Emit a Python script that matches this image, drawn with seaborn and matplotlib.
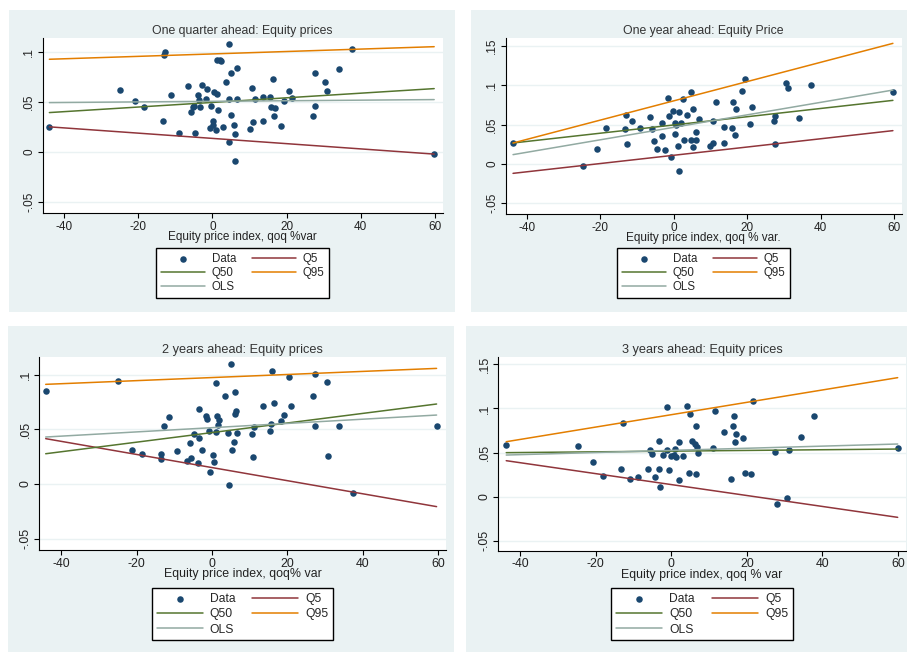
import matplotlib
matplotlib.use("Agg")
import matplotlib.pyplot as plt
import seaborn as sns
from matplotlib.patches import Rectangle
from matplotlib.ticker import FuncFormatter

# ---- data ----
titles = ["One quarter ahead: Equity prices", "One year ahead: Equity Price",
          "2 years ahead: Equity prices", "3 years ahead: Equity prices"]
xlabels = ["Equity price index, qoq %var", "Equity price index, qoq % var.",
           "Equity price index, qoq% var", "Equity price index, qoq % var"]
xticks = [-40, -20, 0, 20, 40, 60]
yticks_short = [-0.05, 0, 0.05, 0.1]
yticks_long = [-0.05, 0, 0.05, 0.1, 0.15]

# one quarter ahead
x1 = [-44.0, -24.9, -21.0, -18.5, -13.2, -12.8, -13.3, -11.3, -9.1, -6.5,
      -5.9, -4.6, -5.3, -4.9, -3.8, -2.7, -3.3, -3.6, -1.5, -1.7,
      -0.5, -0.8, 0.1, 0.2, 0.5, 1.1, 1.0, 1.4, 1.3, 1.9,
      2.4, 2.8, 3.6, 4.5, 5.0, 5.1, 4.5, 4.4, 5.9, 6.1,
      6.0, 6.5, 6.7, 10.0, 10.7, 11.0, 11.5, 13.6, 13.7, 15.5,
      16.3, 15.9, 16.9, 16.6, 18.6, 19.4, 20.7, 21.5, 27.1, 27.7,
      27.7, 30.4, 31.0, 34.2, 37.5, 59.8]
y1 = [0.025, 0.062, 0.051, 0.045, 0.097, 0.100, 0.031, 0.057, 0.019, 0.066,
      0.040, 0.019, 0.045, 0.046, 0.057, 0.067, 0.045, 0.052, 0.063, 0.053,
      0.046, 0.024, 0.031, 0.027, 0.060, 0.058, 0.022, 0.042, 0.092, 0.092,
      0.091, 0.025, 0.070, 0.108, 0.079, 0.037, 0.053, 0.010, 0.027, 0.018,
      -0.009, 0.084, 0.053, 0.023, 0.064, 0.030, 0.053, 0.031, 0.055, 0.055,
      0.073, 0.045, 0.044, 0.036, 0.026, 0.051, 0.061, 0.054, 0.036, 0.079,
      0.046, 0.070, 0.061, 0.083, 0.103, -0.002]
# fitted values at min / max x
q5_1 = [0.025, -0.0023]
q50_1 = [0.0393, 0.0633]
q95_1 = [0.0927, 0.1053]
ols_1 = [0.0493, 0.0523]

# one year ahead
x2 = [-43.8, -24.7, -20.9, -18.4, -13.0, -13.3, -12.7, -11.3, -9.1, -6.4,
      -5.9, -5.3, -4.5, -2.5, -3.2, -3.2, -1.6, -1.4, -0.8, -0.3,
      0.3, 0.4, 0.7, 1.2, 1.5, 1.9, 1.4, 2.5, 2.9, 3.6,
      4.6, 4.6, 5.1, 5.1, 6.1, 6.0, 6.8, 10.0, 10.8, 10.7,
      11.5, 13.6, 13.8, 15.9, 16.2, 16.6, 16.9, 18.6, 19.4, 20.7,
      21.4, 27.2, 27.7, 27.7, 30.5, 31.1, 34.1, 37.5, 59.7]
y2 = [0.0267, -0.0025, 0.0186, 0.0462, 0.0623, 0.0445, 0.025, 0.0547, 0.0453, 0.0602,
      0.0449, 0.0292, 0.0186, 0.0178, 0.0356, 0.0517, 0.0839, 0.061, 0.0093, 0.0669,
      0.0525, 0.0377, 0.049, 0.0225, 0.0657, 0.0525, -0.0089, 0.083, 0.0305, 0.0623,
      0.0915, 0.0305, 0.0703, 0.0212, 0.0305, 0.0411, 0.0576, 0.0233, 0.0267, 0.0547,
      0.0792, 0.047, 0.0267, 0.0453, 0.0792, 0.0364, 0.0699, 0.0928, 0.108, 0.0513,
      0.0729, 0.0547, 0.061, 0.025, 0.1025, 0.0962, 0.0585, 0.1, 0.0915]
q5_2 = [-0.0119, 0.0424]
q50_2 = [0.0267, 0.0809]
q95_2 = [0.0267, 0.1534]
ols_2 = [0.0119, 0.094]

# 2 years ahead
x3 = [-44.1, -25.0, -21.1, -18.6, -13.5, -13.5, -12.8, -11.3, -9.3, -6.5,
      -5.9, -5.6, -4.7, -3.8, -3.5, -3.4, -2.7, -1.6, -1.4, -0.9,
      -0.4, 0.2, 0.6, 1.1, 1.2, 1.3, 1.5, 2.0, 3.5, 4.3,
      4.4, 5.0, 5.2, 5.9, 6.0, 6.2, 6.5, 6.6, 10.6, 10.8,
      11.2, 13.5, 15.4, 15.6, 16.0, 16.5, 18.3, 19.0, 20.4, 21.1,
      26.7, 27.3, 27.4, 30.4, 30.9, 33.8, 37.3, 59.6]
y3 = [0.0854, 0.0945, 0.0314, 0.0274, 0.0271, 0.0226, 0.0534, 0.061, 0.0299, 0.021,
      0.0372, 0.0235, 0.046, 0.0189, 0.0686, 0.0424, 0.0311, 0.0622, 0.0595, 0.0485,
      0.0107, 0.0262, 0.0198, 0.0479, 0.0921, 0.0622, 0.054, 0.0582, 0.0802, 0.047,
      -0.0012, 0.1095, 0.0314, 0.0381, 0.0838, 0.0637, 0.0671, 0.0466, 0.0454, 0.0244,
      0.0518, 0.071, 0.0485, 0.0549, 0.1034, 0.0738, 0.0573, 0.0634, 0.0982, 0.0716,
      0.0802, 0.1009, 0.0534, 0.093, 0.0256, 0.0527, -0.0079, 0.0534]
q5_3 = [0.0415, -0.0207]
q50_3 = [0.0277, 0.0732]
q95_3 = [0.0912, 0.1058]
ols_3 = [0.043, 0.0631]

# 3 years ahead
x4 = [-43.7, -24.6, -20.7, -18.2, -13.2, -12.7, -11.0, -8.9, -6.3, -5.6,
      -5.2, -4.2, -3.3, -3.2, -3.1, -2.1, -1.1, -1.2, -0.5, 0.0,
      0.6, 1.0, 1.3, 1.9, 2.0, 3.0, 4.1, 4.8, 5.0, 5.5,
      6.3, 6.5, 6.5, 7.0, 6.7, 11.0, 11.5, 14.0, 15.9, 16.2,
      16.5, 16.8, 17.1, 18.9, 19.4, 21.1, 21.6, 27.5, 27.9, 30.7,
      31.2, 34.3, 37.7, 59.9]
y4 = [0.0589, 0.057, 0.0389, 0.0238, 0.0314, 0.0831, 0.0196, 0.0227, 0.0317, 0.0533,
      0.048, 0.0223, 0.0317, 0.0631, 0.0113, 0.0472, 0.1012, 0.0529, 0.0302, 0.0465,
      0.0476, 0.0536, 0.0453, 0.0616, 0.0185, 0.0465, 0.1031, 0.0272, 0.0933, 0.0631,
      0.0593, 0.0797, 0.0257, 0.0491, 0.0563, 0.0555, 0.0971, 0.0733, 0.0196, 0.0797,
      0.0918, 0.0616, 0.0714, 0.0669, 0.0272, 0.0257, 0.1088, 0.051, -0.0079, -0.0015,
      0.0525, 0.068, 0.0918, 0.0548]
q5_4 = [0.0408, -0.0234]
q50_4 = [0.0499, 0.054]
q95_4 = [0.0623, 0.1349]
ols_4 = [0.0472, 0.0597]

# ---- style ----
sns.set_style("white")
plt.rcParams["font.family"] = ["Liberation Sans", "DejaVu Sans"]
plt.rcParams["axes.unicode_minus"] = False

W, H = 907, 652
BG = "#eaf2f3"
NAVY, MAROON, GREEN, ORANGE, TEAL = "#1a476f", "#90353b", "#55752f", "#e37e00", "#92aaa2"


def frac(x0, y0, x1, y1):
    # pixel box (top-left origin) -> figure fraction [l, b, w, h]
    return [x0 / W, 1 - y1 / H, (x1 - x0) / W, (y1 - y0) / H]


def short(v, pos):
    s = f"{v:g}"
    return s.replace("0.", ".")


fig = plt.figure(figsize=(W / 100, H / 100), dpi=100)

# (panel box, plot box, ylim, yticks, legend top, text size, legend row gap)
layout = [
    ((9, 10, 455, 312), (42.7, 37.7, 442.7, 213), (-0.0613, 0.1143), yticks_short, 248, 8.5, 0.2),
    ((471, 10, 907, 312), (505.7, 37.7, 901.7, 214), (-0.0636, 0.1606), yticks_long, 248, 8.5, 0.2),
    ((8, 326, 454, 652), (39.3, 356.7, 446, 550), (-0.0604, 0.1165), yticks_short, 588, 8.9, 0.28),
    ((466, 326, 907, 652), (498.3, 357, 906, 550.7), (-0.0612, 0.1583), yticks_long, 588, 8.9, 0.28),
]
series = [(x1, y1, q5_1, q50_1, q95_1, ols_1), (x2, y2, q5_2, q50_2, q95_2, ols_2),
          (x3, y3, q5_3, q50_3, q95_3, ols_3), (x4, y4, q5_4, q50_4, q95_4, ols_4)]

for i, ((pb, ab, ylim, yt, legtop, fs, lsp), (xs, ys, q5, q50, q95, ols)) in enumerate(zip(layout, series)):
    fig.patches.append(Rectangle((pb[0] / W, 1 - pb[3] / H), (pb[2] - pb[0]) / W,
                                 (pb[3] - pb[1]) / H, transform=fig.transFigure,
                                 facecolor=BG, edgecolor="none", zorder=-5))
    ax = fig.add_axes(frac(*ab))
    ax.set_zorder(1)
    ax.set_facecolor("white")
    ends = [min(xs), max(xs)]

    sns.scatterplot(x=xs, y=ys, ax=ax, color=NAVY, s=22, linewidth=0, label="Data", zorder=2)
    sns.lineplot(x=ends, y=q5, ax=ax, color=MAROON, lw=1.1, label="Q5", zorder=3)
    sns.lineplot(x=ends, y=q50, ax=ax, color=GREEN, lw=1.1, label="Q50", zorder=3)
    sns.lineplot(x=ends, y=q95, ax=ax, color=ORANGE, lw=1.1, label="Q95", zorder=3)
    sns.lineplot(x=ends, y=ols, ax=ax, color=TEAL, lw=1.1, label="OLS", zorder=3)

    ax.set_xlim(-45.8, 62.1)
    ax.set_ylim(*ylim)
    ax.set_xticks(xticks)
    ax.set_yticks(yt)
    ax.yaxis.set_major_formatter(FuncFormatter(short))
    ax.grid(axis="y", color=BG, lw=1.0)
    ax.grid(axis="x", visible=False)
    for side in ["top", "right"]:
        ax.spines[side].set_visible(False)
    for side in ["left", "bottom"]:
        ax.spines[side].set_color("black")
        ax.spines[side].set_linewidth(0.8)
    ax.tick_params(direction="out", length=3.5, width=0.8, color="black",
                   labelsize=fs, labelcolor="#222222", pad=2, bottom=True, left=True)
    ax.tick_params(axis="y", labelrotation=90)
    for lab in ax.get_yticklabels():
        lab.set_va("center")

    hpx = ab[3] - ab[1]
    ax.set_title(titles[i], fontsize=fs + 0.3, color="#333333", pad=3)
    ax.set_xlabel(xlabels[i], fontsize=fs, color="#222222")
    ax.xaxis.set_label_coords(0.5, -18 / hpx)
    ax.xaxis.label.set_va("top")
    ax.set_ylabel("")

    handles, labels = ax.get_legend_handles_labels()
    order = [labels.index(n) for n in ["Data", "Q50", "OLS", "Q5", "Q95"]]
    leg = ax.legend([handles[k] for k in order], [labels[k] for k in order], ncol=2,
                    loc="upper center", bbox_to_anchor=(0.5, (ab[3] - legtop) / hpx),
                    frameon=True, fancybox=False, edgecolor="black", framealpha=1,
                    fontsize=fs - 0.2, handlelength=3.8, handletextpad=0.6, columnspacing=1.4,
                    labelspacing=lsp, borderpad=0.4, scatterpoints=1, borderaxespad=0)
    leg.get_frame().set_linewidth(1.0)

fig.savefig("out.png", dpi=100, facecolor="white")
